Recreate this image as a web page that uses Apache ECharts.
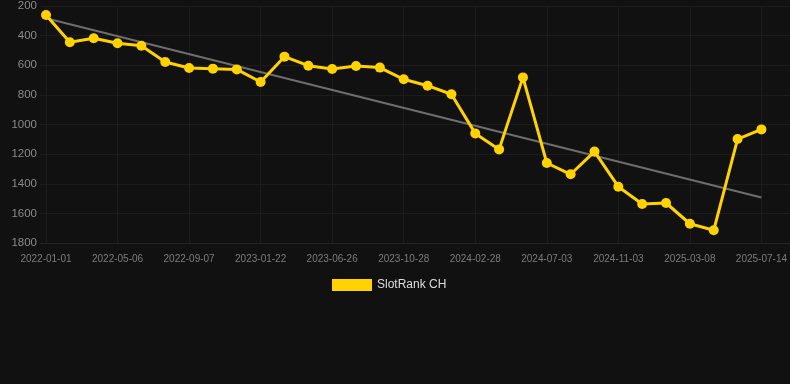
<!DOCTYPE html>
<html>
<head>
<meta charset="utf-8">
<script src="https://cdn.jsdelivr.net/npm/echarts@6/dist/echarts.min.js"></script>
<style>
html,body{margin:0;padding:0;background:#111111;}
#c{width:790px;height:384px;}
</style>
</head>
<body>
<div id="c"></div>
<script>
var dates = ["2022-01-01","2022-02-12","2022-03-25","2022-05-06","2022-06-16","2022-07-27","2022-09-07","2022-10-22","2022-12-07","2023-01-22","2023-03-14","2023-05-05","2023-06-26","2023-08-05","2023-09-16","2023-10-28","2023-12-08","2024-01-18","2024-02-28","2024-04-10","2024-05-22","2024-07-03","2024-08-13","2024-09-23","2024-11-03","2024-12-16","2025-01-26","2025-03-08","2025-04-19","2025-06-01","2025-07-14"];
var ranks = [261,445,418,452,468,578,619,623,628,713,542,603,625,605,616,695,738,796,1060,1168,682,1260,1336,1183,1420,1537,1530,1670,1714,1098,1033];
var trendStart = 283;
var trendEnd = 1493;
var seriesName = "SlotRank CH";

var trend = dates.map(function(d,i){ return i===0 ? trendStart : (i===dates.length-1 ? trendEnd : null); });

var chart = echarts.init(document.getElementById('c'), null, {renderer:'canvas'});
chart.setOption({
  backgroundColor:'#111111',
  animation:false,
  grid:[
    {left:46,right:28,top:6,bottom:141},
    {left:40,right:0,top:6,bottom:141}
  ],
  legend:{
    data:[seriesName],
    top:279,
    left:332,
    padding:0,
    itemWidth:40,
    itemHeight:12,
    itemGap:6,
    icon:'rect',
    textStyle:{color:'#dddddd',fontSize:12,fontFamily:'Liberation Sans, Arial, sans-serif'}
  },
  xAxis:[
    {type:'category',gridIndex:0,data:dates,boundaryGap:false,
     axisLine:{show:false},axisTick:{show:false},
     axisLabel:{interval:2,color:'#7c7c7c',fontSize:10,margin:11,fontFamily:'Liberation Sans, Arial, sans-serif'},
     splitLine:{show:true,interval:2,lineStyle:{color:'#1c1c1c',width:1}}},
    {type:'value',gridIndex:1,min:0,max:1,show:true,
     axisLine:{show:true,onZero:false,lineStyle:{color:'#262626'}},axisTick:{show:false},axisLabel:{show:false},splitLine:{show:false}}
  ],
  yAxis:[
    {type:'value',gridIndex:0,inverse:true,min:200,max:1800,interval:200,
     axisLine:{show:false},axisTick:{show:false},
     axisLabel:{color:'#8a8a8a',fontSize:11.5,margin:9,fontFamily:'Liberation Sans, Arial, sans-serif',
       formatter:function(v){return String(v);}},
     splitLine:{show:false}},
    {type:'value',gridIndex:1,inverse:true,min:200,max:1800,interval:200,
     axisLine:{show:false},axisTick:{show:false},axisLabel:{show:false},
     splitLine:{show:true,lineStyle:{color:'#1c1c1c',width:1}}}
  ],
  series:[
    {name:'trend',type:'line',xAxisIndex:0,yAxisIndex:0,data:trend,connectNulls:true,
     showSymbol:false,symbol:'none',lineStyle:{color:'#6e6e6e',width:2},silent:true,z:2},
    {name:seriesName,type:'line',xAxisIndex:0,yAxisIndex:0,data:ranks,
     symbol:'circle',symbolSize:10,
     itemStyle:{color:'#ffd200'},lineStyle:{color:'#ffd200',width:3},z:3}
  ]
});
</script>
</body>
</html>
